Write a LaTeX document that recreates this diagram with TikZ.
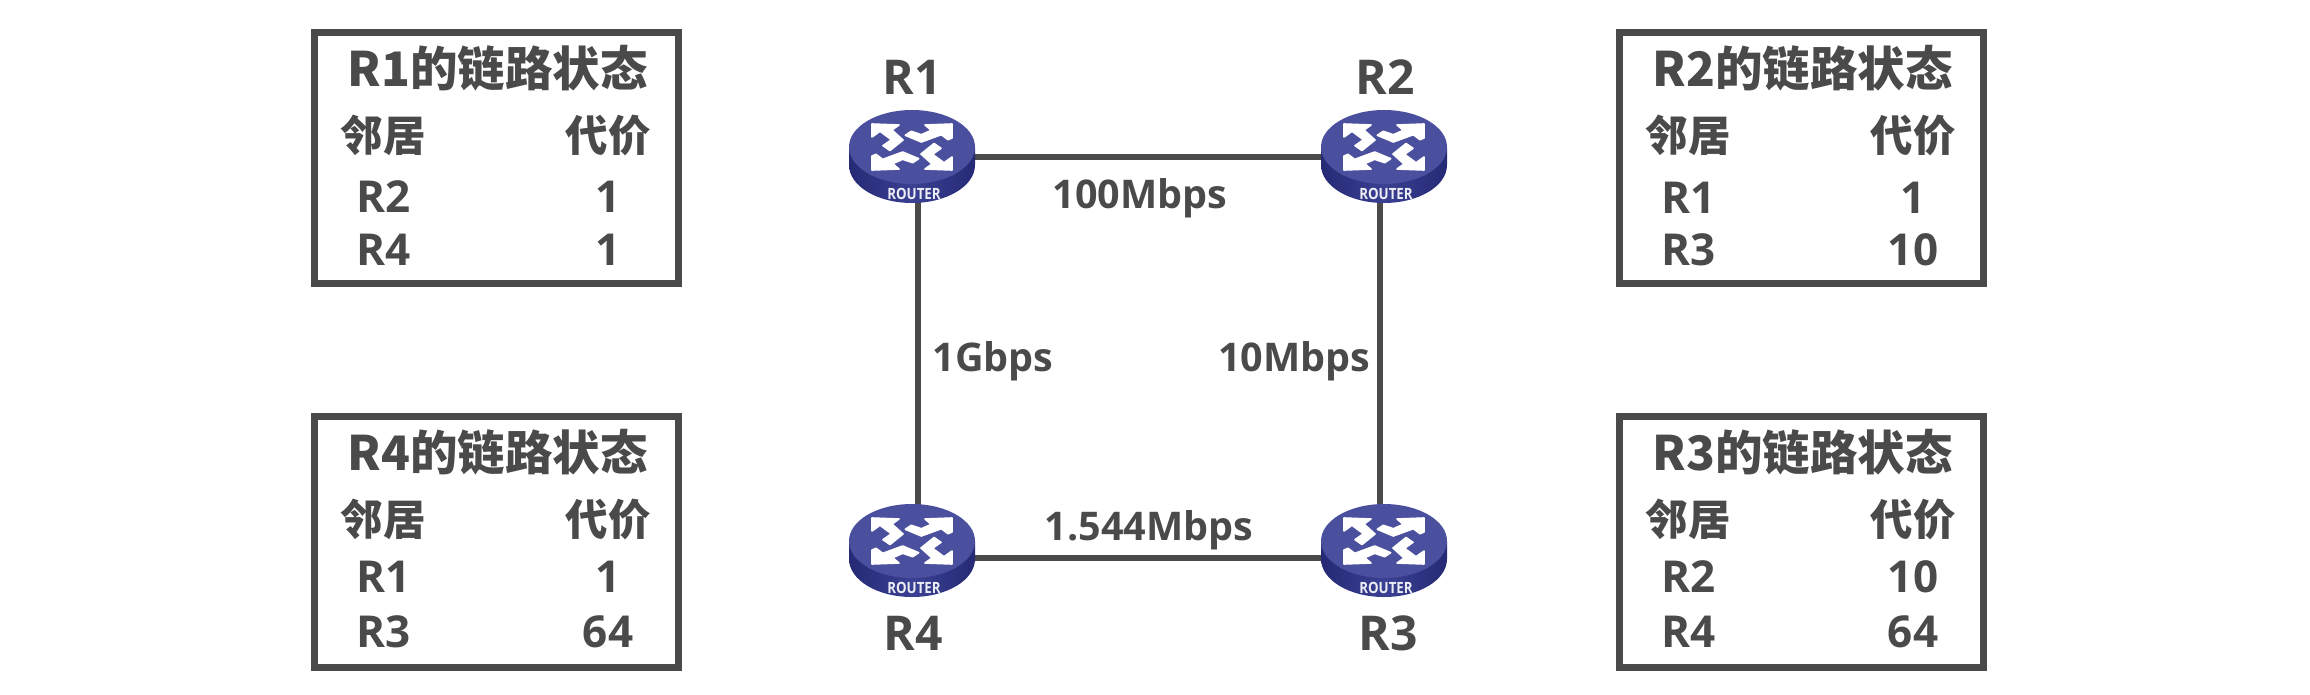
\documentclass[tikz,border=0pt]{standalone}
\usepackage{fontspec}
\setmainfont{Open Sans}[BoldFont={Open Sans Bold}]
\newfontfamily\cjk{Noto Sans CJK SC Bold}
\usetikzlibrary{calc}
\definecolor{ink}{HTML}{4A4A4A}
\definecolor{rtop}{HTML}{4A4F9E}
\definecolor{rsidea}{HTML}{262A75}
\definecolor{rsideb}{HTML}{3A4092}
\tikzset{
  x=1pt,y=-1pt,
  panel/.style={draw=ink,line width=7pt,fill=white},
  link/.style={draw=ink,line width=6pt},
  lbl/.style={text=ink,font=\fontsize{39.5}{40}\selectfont\bfseries,inner sep=0pt},
  txt/.style={text=ink,font=\fontsize{44}{44}\selectfont\bfseries,inner sep=0pt},
  head/.style={text=ink,font=\fontsize{47.5}{48}\selectfont\bfseries\cjk,inner sep=0pt},
  sub/.style={text=ink,font=\fontsize{42.5}{43}\selectfont\bfseries\cjk,inner sep=0pt},
  rname/.style={text=ink,font=\fontsize{48}{48}\selectfont\bfseries,inner sep=0pt},
  anchorpt/.style={inner sep=0pt,minimum size=1pt},
  glyph/.style={fill=white,draw=white,line width=1.6pt,line join=round},
}
\newcommand{\routerart}[2]{%
 \begin{scope}[shift={(#1,#2)}]
  \shade[left color=rsidea,right color=rsidea,middle color=rsideb]
    (-63,-10) -- (-63,8) arc[x radius=63,y radius=38,start angle=180,end angle=0] -- (63,-10) -- cycle;
  \fill[rtop] (0,-10) ellipse[x radius=63,y radius=37];
  \foreach \r in {0,180}{
   \begin{scope}[rotate around={\r:(0,-10)}]
    \path[glyph] (-40,-33) -- (-13,-32) -- (-20,-27) -- (-9,-17) -- (-22,-6.5) -- (-29,-11.3) -- (-20.6,-17.3) -- (-32,-25.7) -- (-40,-20) -- cycle;
    \path[glyph] (40,-33) -- (13,-32) -- (19.3,-26.7) -- (9.3,-22.3) -- (-0.7,-25.7) -- (-6.7,-21.7) -- (9.3,-15) -- (29.3,-22.3) -- (36,-17.3) -- (40,-19) -- cycle;
   \end{scope}}
  \node[text=white!90!rtop,font=\fontsize{15.5}{16}\selectfont\bfseries,inner sep=0pt,xscale=.86,transform shape] at (2,37) {ROUTER};
 \end{scope}}
\newcommand{\statebox}[9]{%
 \draw[panel] (#1,#2) rectangle ++(364,251);
 \node[head] at ($(#1,#2)+(183.5,36)$) {#3};
 \node[sub] at ($(#1,#2)+(69,103)$) {邻居};
 \node[sub] at ($(#1,#2)+(294,103)$) {代价};
 \node[txt] at ($(#1,#2)+(70,#8)$) {#4};
 \node[txt] at ($(#1,#2)+(294,#8)$) {#5};
 \node[txt] at ($(#1,#2)+(70,#9)$) {#6};
 \node[txt] at ($(#1,#2)+(294,#9)$) {#7};}
\begin{document}
\begin{tikzpicture}
\useasboundingbox (0,0) rectangle (2310,694);
\node[anchorpt] (r1) at (918,157) {};
\node[anchorpt] (r2) at (1380,157) {};
\node[anchorpt] (r3) at (1380,558) {};
\node[anchorpt] (r4) at (918,558) {};
\draw[link] (r1.center) -- (r2.center);
\draw[link] (r2.center) -- (r3.center);
\draw[link] (r3.center) -- (r4.center);
\draw[link] (r4.center) -- (r1.center);
\routerart{912}{157}
\routerart{1384}{157}
\routerart{1384}{551}
\routerart{912}{551}
\node[rname] (n1) at (912,77) {R1};
\node[rname] (n2) at (1385,77) {R2};
\node[rname] (n3) at (1388,633) {R3};
\node[rname] (n4) at (913,633) {R4};
\node[lbl] (l1) at (1140,198) {100Mbps};
\node[lbl] (l2) at (993,361) {1Gbps};
\node[lbl] (l3) at (1294,361) {10Mbps};
\node[lbl] (l4) at (1149,530) {1.544Mbps};
\statebox{314}{32}{R1的链路状态}{R2}{1}{R4}{1}{165}{218}
\statebox{1619}{32}{R2的链路状态}{R1}{1}{R3}{10}{166}{218}
\statebox{314}{416}{R4的链路状态}{R1}{1}{R3}{64}{161}{216}
\statebox{1619}{416}{R3的链路状态}{R2}{10}{R4}{64}{161}{216}
\end{tikzpicture}
\end{document}
